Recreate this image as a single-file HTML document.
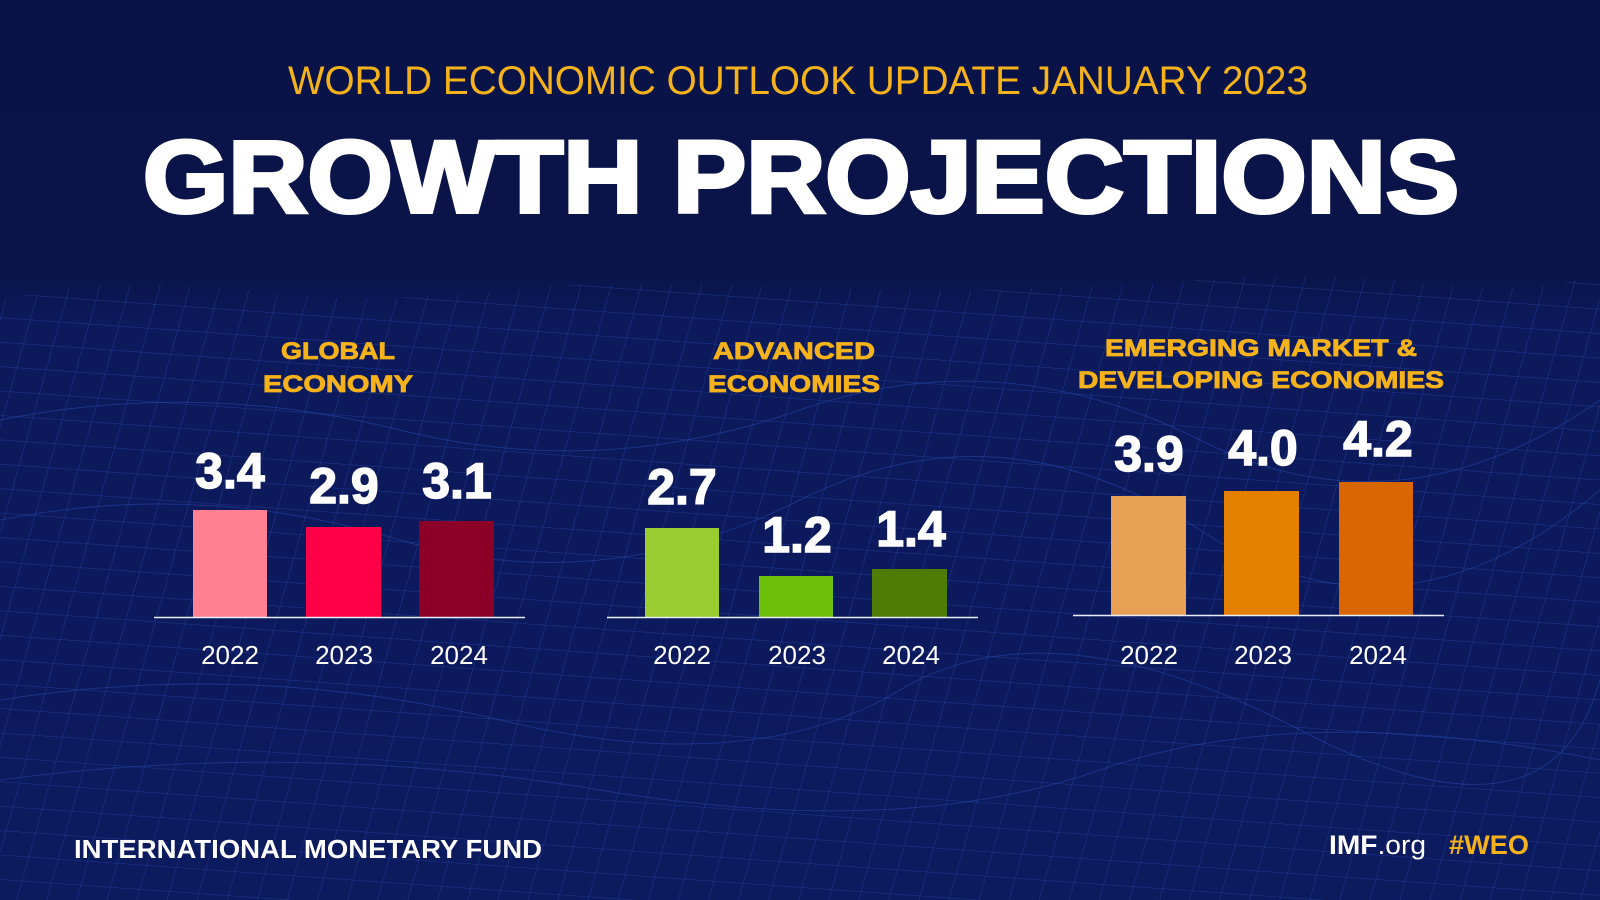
<!DOCTYPE html>
<html><head><meta charset="utf-8"><style>
html,body{margin:0;padding:0;background:#0a1449;}
svg{display:block;}
</style></head><body>
<svg width="1600" height="900" viewBox="0 0 1600 900" xmlns="http://www.w3.org/2000/svg">
<defs>
<linearGradient id="bg" x1="0" y1="0" x2="0" y2="1">
<stop offset="0" stop-color="#0a1347"/>
<stop offset="0.3" stop-color="#0a1449"/>
<stop offset="0.36" stop-color="#0c1a5c"/>
<stop offset="1" stop-color="#0c1a5e"/>
</linearGradient>
<pattern id="grid" width="30" height="24" patternUnits="userSpaceOnUse" patternTransform="skewX(-12) rotate(4)">
<path d="M0 0H30M0 0V24" stroke="#2a4cb0" stroke-width="1" fill="none" opacity="0.6"/>
</pattern>
</defs>
<rect width="1600" height="900" fill="url(#bg)"/>
<path d="M0 300 Q120 275 240 290 T480 292 T720 285 T960 290 T1200 280 T1440 284 T1600 268 V900 H0Z" fill="url(#grid)"/>
<g fill="none" stroke="#2a4cb0" stroke-width="1" opacity="0.5">
<path d="M0 420 Q200 380 400 430 T800 410 T1200 440 T1600 400"/>
<path d="M0 520 Q200 480 400 540 T800 500 T1200 530 T1600 490"/>
<path d="M0 700 Q250 660 500 720 T900 690 T1300 730 T1600 680"/>
<path d="M0 780 Q300 740 600 790 T1100 770 T1600 760"/>
</g>
<g font-family="Liberation Sans, sans-serif">
<text x="798" y="94" text-anchor="middle" fill="#f5b21b" font-size="40" textLength="1020" lengthAdjust="spacingAndGlyphs">WORLD ECONOMIC OUTLOOK UPDATE JANUARY 2023</text>
<text x="801" y="212" text-anchor="middle" fill="#fff" font-size="102" font-weight="bold" stroke="#fff" stroke-width="4" textLength="1316" lengthAdjust="spacingAndGlyphs">GROWTH PROJECTIONS</text>

<g fill="#f5b21b" font-size="24" font-weight="bold" text-anchor="middle" stroke="#f5b21b" stroke-width="0.8">
<text x="338" y="359" textLength="114" lengthAdjust="spacingAndGlyphs">GLOBAL</text>
<text x="338" y="392" textLength="150" lengthAdjust="spacingAndGlyphs">ECONOMY</text>
<text x="794" y="359" textLength="162" lengthAdjust="spacingAndGlyphs">ADVANCED</text>
<text x="794" y="392" textLength="172" lengthAdjust="spacingAndGlyphs">ECONOMIES</text>
<text x="1261" y="356" textLength="312" lengthAdjust="spacingAndGlyphs">EMERGING MARKET &amp;</text>
<text x="1261" y="388" textLength="366" lengthAdjust="spacingAndGlyphs">DEVELOPING ECONOMIES</text>
</g>

<rect x="193" y="510" width="74" height="107" fill="#ff8090"/>
<rect x="306" y="527" width="75" height="90" fill="#ff0048"/>
<rect x="419" y="521" width="75" height="96" fill="#8c0028"/>
<line x1="154" y1="617.5" x2="525" y2="617.5" stroke="#e8ecf5" stroke-width="1.5"/>

<rect x="645" y="528" width="74" height="89" fill="#9acd32"/>
<rect x="759" y="576" width="74" height="41" fill="#6cbf0a"/>
<rect x="872" y="569" width="75" height="48" fill="#4e7d05"/>
<line x1="607" y1="617.5" x2="978" y2="617.5" stroke="#e8ecf5" stroke-width="1.5"/>

<rect x="1111" y="496" width="75" height="119" fill="#e8a055"/>
<rect x="1224" y="491" width="75" height="124" fill="#e38000"/>
<rect x="1339" y="482" width="74" height="133" fill="#d96600"/>
<line x1="1073" y1="615.5" x2="1444" y2="615.5" stroke="#e8ecf5" stroke-width="1.5"/>

<g fill="#fff" font-size="50" font-weight="bold" text-anchor="middle" stroke="#fff" stroke-width="1.5">
<text x="230" y="488">3.4</text>
<text x="344" y="503">2.9</text>
<text x="457" y="498">3.1</text>
<text x="682" y="504">2.7</text>
<text x="797" y="552">1.2</text>
<text x="911" y="546">1.4</text>
<text x="1149" y="471">3.9</text>
<text x="1263" y="465">4.0</text>
<text x="1378" y="456">4.2</text>
</g>
<g fill="#fff" font-size="26" text-anchor="middle">
<text x="230" y="664">2022</text>
<text x="344" y="664">2023</text>
<text x="459" y="664">2024</text>
<text x="682" y="664">2022</text>
<text x="797" y="664">2023</text>
<text x="911" y="664">2024</text>
<text x="1149" y="664">2022</text>
<text x="1263" y="664">2023</text>
<text x="1378" y="664">2024</text>
</g>
<text x="74" y="858" fill="#fff" font-size="26" font-weight="bold" textLength="468" lengthAdjust="spacingAndGlyphs">INTERNATIONAL MONETARY FUND</text>
<text x="1329" y="854" fill="#fff" font-size="27" textLength="97" lengthAdjust="spacingAndGlyphs"><tspan font-weight="bold">IMF</tspan>.org</text>
<text x="1449" y="854" fill="#f5b21b" font-size="27" font-weight="bold" textLength="80" lengthAdjust="spacingAndGlyphs">#WEO</text>
</g>
</svg>
</body></html>
